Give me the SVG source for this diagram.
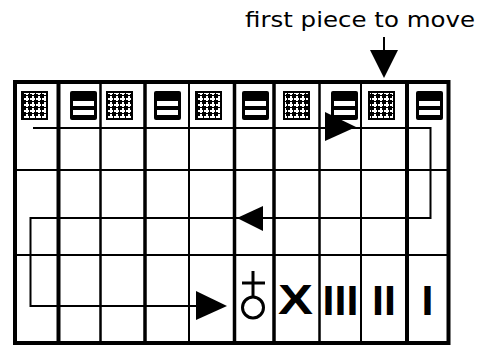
<svg xmlns="http://www.w3.org/2000/svg" width="483" height="345" viewBox="0 0 483 345">
  <style>
    .grid { stroke: #000; fill: none; }
    .path { stroke: #000; stroke-width: 2; fill: none; }
    .head { fill: #000; }
    .eq { fill: #000; }
    .bar { fill: #fff; }
    .pat { fill: url(#dots); stroke: #000; stroke-width: 2; }
    .piece { font-family: "Liberation Sans", Arial, sans-serif; font-weight: bold; font-size: 43px; fill: #000; text-anchor: middle; }
    .label { font-family: "DejaVu Sans", "Liberation Sans", sans-serif; font-size: 21px; fill: #000; }
  </style>
  <defs>
    <pattern id="dots" x="0" y="0" width="6" height="6" patternUnits="userSpaceOnUse">
      <rect width="6" height="6" fill="#000"/>
      <rect x="2" y="0" width="2" height="5" fill="#fff"/>
      <rect x="0" y="2" width="5" height="2" fill="#fff"/>
    </pattern>
  </defs>
  <rect width="483" height="345" fill="#fff"/>

  <!-- label and pointer -->
  <g id="label">
    <text class="label" x="245" y="27" textLength="230" lengthAdjust="spacingAndGlyphs">first piece to move</text>
    <line x1="384" y1="37" x2="384" y2="52" stroke="#000" stroke-width="2"/>
    <polygon class="head" points="370,50 398,50 384,78"/>
  </g>

  <!-- board grid -->
  <g id="board" class="grid">
    <rect x="15" y="82" width="433.5" height="261" stroke-width="4"/>
    <line x1="58.5" y1="82" x2="58.5" y2="343" stroke-width="4"/>
    <line x1="100.5" y1="82" x2="100.5" y2="343" stroke-width="2.5"/>
    <line x1="145" y1="82" x2="145" y2="343" stroke-width="3.5"/>
    <line x1="189" y1="82" x2="189" y2="343" stroke-width="2"/>
    <line x1="234.5" y1="82" x2="234.5" y2="343" stroke-width="3.5"/>
    <line x1="274" y1="82" x2="274" y2="343" stroke-width="3.5"/>
    <line x1="319.5" y1="82" x2="319.5" y2="343" stroke-width="2.5"/>
    <line x1="361" y1="82" x2="361" y2="343" stroke-width="2"/>
    <line x1="407" y1="82" x2="407" y2="343" stroke-width="4"/>
    <line x1="15" y1="170" x2="448.5" y2="170" stroke-width="2"/>
    <line x1="15" y1="255" x2="448.5" y2="255" stroke-width="2"/>
  </g>

  <!-- header pieces -->
  <g id="p1"><rect class="pat" x="22" y="92" width="25" height="27"/></g>
  <g id="p2"><rect class="eq" x="70" y="91" width="27" height="29" rx="2"/><rect class="bar" x="73" y="101" width="21" height="5"/><rect class="bar" x="73" y="110" width="21" height="5"/></g>
  <g id="p3"><rect class="pat" x="107" y="92" width="25" height="27"/></g>
  <g id="p4"><rect class="eq" x="154" y="91" width="27" height="29" rx="2"/><rect class="bar" x="157" y="101" width="21" height="5"/><rect class="bar" x="157" y="110" width="21" height="5"/></g>
  <g id="p5"><rect class="pat" x="196" y="92" width="25" height="27"/></g>
  <g id="p6"><rect class="eq" x="242" y="91" width="27" height="29" rx="2"/><rect class="bar" x="245" y="101" width="21" height="5"/><rect class="bar" x="245" y="110" width="21" height="5"/></g>
  <g id="p7"><rect class="pat" x="284" y="92" width="25" height="27"/></g>
  <g id="p8"><rect class="eq" x="331" y="91" width="27" height="29" rx="2"/><rect class="bar" x="334" y="101" width="21" height="5"/><rect class="bar" x="334" y="110" width="21" height="5"/></g>
  <g id="p9"><rect class="pat" x="369" y="92" width="25" height="27"/></g>
  <g id="p10"><rect class="eq" x="416" y="91" width="27" height="29" rx="2"/><rect class="bar" x="419" y="101" width="21" height="5"/><rect class="bar" x="419" y="110" width="21" height="5"/></g>

  <!-- bottom pieces -->
  <g id="earth" stroke="#000" stroke-width="3" fill="none">
    <circle cx="253" cy="307.5" r="10.5"/>
    <line x1="253" y1="271" x2="253" y2="297"/>
    <line x1="242" y1="283" x2="265" y2="283"/>
  </g>
  <g id="x10"><text class="piece" x="295.5" y="314" textLength="35" lengthAdjust="spacingAndGlyphs">X</text></g>
  <g id="r3"><text class="piece" x="340.5" y="315">III</text></g>
  <g id="r2"><text class="piece" x="384" y="315">II</text></g>
  <g id="r1"><text class="piece" x="427.5" y="315">I</text></g>

  <!-- move path -->
  <g id="connectors">
    <polyline class="path" points="33,128 430.5,128 430.5,218 30.5,218 30.5,306 200,306"/>
    <polygon class="head" points="325,112 325,141 356,127"/>
    <polygon class="head" points="263,206 263,231 237,218"/>
    <polygon class="head" points="196,291 196,320 227,306"/>
  </g>
</svg>
